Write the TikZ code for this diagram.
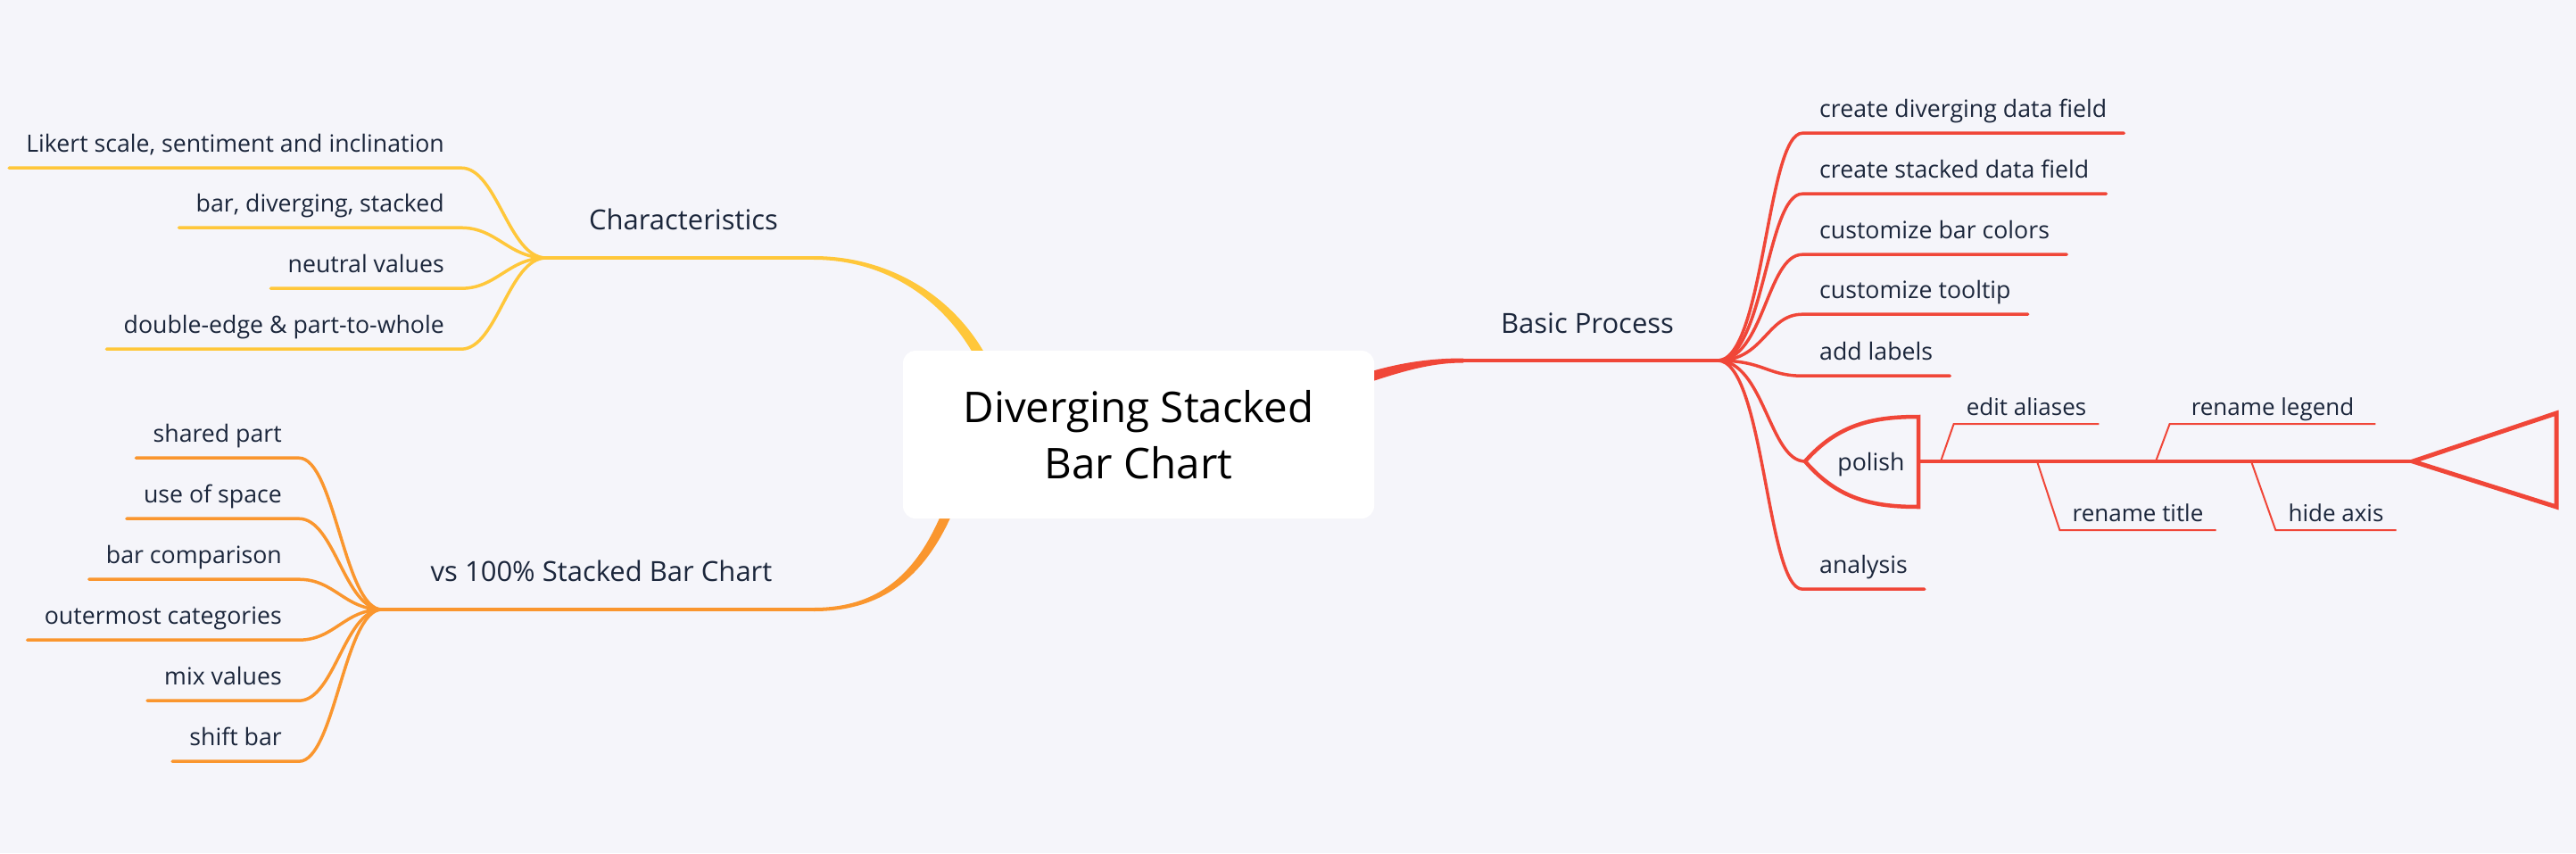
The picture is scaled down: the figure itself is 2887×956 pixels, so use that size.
\documentclass[tikz,border=0pt]{standalone}
\usepackage{fontspec}
\setmainfont{Open Sans}
\usetikzlibrary{positioning}
\pgfdeclarelayer{back}
\pgfsetlayers{back,main}
\definecolor{bgc}{RGB}{245,245,250}
\definecolor{ylw}{RGB}{255,199,58}
\definecolor{org}{RGB}{250,150,46}
\definecolor{rd}{RGB}{240,70,56}
\definecolor{ink}{RGB}{27,38,59}

\begin{document}
\begin{tikzpicture}[x=1pt, y=-1pt,
    root/.style={fill=white, rounded corners=14pt, minimum width=528pt, minimum height=188pt, inner sep=0pt, align=center, font=\fontsize{47.5}{63}\selectfont},
    topic/.style={text=ink, inner sep=0pt, font=\fontsize{31}{37}\selectfont},
    leaf/.style={text=ink, text depth=0pt, inner xsep=19pt, inner ysep=18pt, font=\fontsize{26.7}{32}\selectfont},
    bone/.style={text=ink, text depth=0pt, inner xsep=14pt, inner ysep=10pt, font=\fontsize{26}{31}\selectfont},
    sub/.style={line width=3.5pt, line cap=round},
    thin/.style={line width=2pt}]
    \useasboundingbox (0,0) rectangle (2887,956);
    \begin{pgfonlayer}{back}
        \fill[bgc] (0,0) rectangle (2887,956);
    \end{pgfonlayer}

    \node[root] (root) at (1276,487) {Diverging Stacked\\Bar Chart};

    \coordinate (hc) at (612,289);
    \coordinate (ce) at (912,289);
    \coordinate (ho) at (428,683);
    \coordinate (oe) at (912,683);
    \coordinate (hr) at (1925,404);
    \coordinate (re) at (1640,404);

    \begin{pgfonlayer}{back}
        \fill[ylw] ([yshift=2pt]ce) .. controls (1001,287) and (1080,337) .. (1115,419) -- (1104,423) .. controls (1070,343) and (999,291) .. ([yshift=-2pt]ce) -- cycle;
        \fill[org] ([yshift=-2pt]oe) .. controls (1002,685) and (1050,632) .. (1080,542) -- (1069,538) .. controls (1040,628) and (998,681) .. ([yshift=2pt]oe) -- cycle;
        \fill[rd] ([yshift=2.5pt]re) .. controls (1600,401.5) and (1562,407) .. (1515,423) -- (1518,434) .. controls (1568,417) and (1602,406.5) .. ([yshift=-2.5pt]re) -- cycle;
    \end{pgfonlayer}

    \node[topic] (chr) at (766,257) [anchor=base] {Characteristics};
    \node[topic] (vs) at (674,651) [anchor=base] {vs 100\% Stacked Bar Chart};
    \node[topic] (bp) at (1779,373) [anchor=base] {Basic Process};

    \draw[ylw, line width=4pt] (hc) -- (ce);
    \draw[org, line width=4pt] (ho) -- (oe);
    \draw[rd, line width=3.5pt] (re) -- (hr);

    \node[leaf, anchor=base east] (lk) at (517,170) {Likert scale, sentiment and inclination};
    \node[leaf, anchor=base east] (bds) at (517,237) {bar, diverging, stacked};
    \node[leaf, anchor=base east] (nv) at (517,305) {neutral values};
    \node[leaf, anchor=base east] (de) at (517,373) {double-edge \& part-to-whole};

    \draw[sub, ylw] (lk.south west) -- (lk.south east) .. controls +(40,0) and +(-42,0) .. (hc);
    \draw[sub, ylw] (bds.south west) -- (bds.south east) .. controls +(40,0) and +(-42,0) .. (hc);
    \draw[sub, ylw] (nv.south west) -- (nv.south east) .. controls +(40,0) and +(-42,0) .. (hc);
    \draw[sub, ylw] (de.south west) -- (de.south east) .. controls +(40,0) and +(-42,0) .. (hc);

    \node[leaf, anchor=base east] (sp) at (335,495) {shared part};
    \node[leaf, anchor=base east] (us) at (335,563) {use of space};
    \node[leaf, anchor=base east] (bc) at (335,631) {bar comparison};
    \node[leaf, anchor=base east] (oc) at (335,699) {outermost categories};
    \node[leaf, anchor=base east] (mv) at (335,767) {mix values};
    \node[leaf, anchor=base east] (sb) at (335,835) {shift bar};

    \draw[sub, org] (sp.south west) -- (sp.south east) .. controls +(40,0) and +(-42,0) .. (ho);
    \draw[sub, org] (us.south west) -- (us.south east) .. controls +(40,0) and +(-42,0) .. (ho);
    \draw[sub, org] (bc.south west) -- (bc.south east) .. controls +(40,0) and +(-42,0) .. (ho);
    \draw[sub, org] (oc.south west) -- (oc.south east) .. controls +(40,0) and +(-42,0) .. (ho);
    \draw[sub, org] (mv.south west) -- (mv.south east) .. controls +(40,0) and +(-42,0) .. (ho);
    \draw[sub, org] (sb.south west) -- (sb.south east) .. controls +(40,0) and +(-42,0) .. (ho);

    \node[leaf, anchor=base west] (cd) at (2020,131) {create diverging data field};
    \node[leaf, anchor=base west] (cs) at (2020,199) {create stacked data field};
    \node[leaf, anchor=base west] (cb) at (2020,267) {customize bar colors};
    \node[leaf, anchor=base west] (ct) at (2020,334) {customize tooltip};
    \node[leaf, anchor=base west] (al) at (2020,403) {add labels};
    \node[leaf, anchor=base west] (an) at (2020,642) {analysis};

    \draw[sub, rd] (hr) .. controls +(52,0) and +(-40,0) .. (cd.south west) -- (cd.south east);
    \draw[sub, rd] (hr) .. controls +(52,0) and +(-40,0) .. (cs.south west) -- (cs.south east);
    \draw[sub, rd] (hr) .. controls +(52,0) and +(-40,0) .. (cb.south west) -- (cb.south east);
    \draw[sub, rd] (hr) .. controls +(52,0) and +(-40,0) .. (ct.south west) -- (ct.south east);
    \draw[sub, rd] (hr) .. controls +(52,0) and +(-40,0) .. (al.south west) -- (al.south east);
    \draw[sub, rd] (hr) .. controls +(52,0) and +(-40,0) .. (an.south west) -- (an.south east);

    \coordinate (pl) at (2023,517);
    \coordinate (pr) at (2150,517);
    \coordinate (tip) at (2704,517);
    \node[leaf, inner sep=0pt, anchor=base] (pol) at (2097,527) {polish};

    \draw[sub, rd] (hr) .. controls +(52,0) and +(-40,0) .. (pl);
    \draw[rd, line width=4.5pt, line join=miter] (pl) .. controls (2060,475) and (2100,467) .. (2150,467) -- (2150,568) .. controls (2100,568) and (2060,560) .. cycle;
    \draw[rd, line width=4pt] (pr) -- (tip);
    \draw[rd, line width=5pt, line join=miter] (tip) -- (2865,463) -- (2865,568) -- cycle;

    \coordinate (b1) at (2175,517);
    \coordinate (b2) at (2416,517);
    \coordinate (b3) at (2283,517);
    \coordinate (b4) at (2523,517);
    \node[bone, anchor=base] (ea) at (2271,465) {edit aliases};
    \node[bone, inner xsep=24pt, anchor=base] (rl) at (2547,465) {rename legend};
    \node[bone, anchor=base] (rt) at (2396,584) {rename title};
    \node[bone, anchor=base] (ha) at (2618,584) {hide axis};

    \draw[thin, rd] (b1) -- (ea.south west) -- (ea.south east);
    \draw[thin, rd] (b2) -- (rl.south west) -- (rl.south east);
    \draw[thin, rd] (b3) -- (rt.south west) -- (rt.south east);
    \draw[thin, rd] (b4) -- (ha.south west) -- (ha.south east);
\end{tikzpicture}
\end{document}
